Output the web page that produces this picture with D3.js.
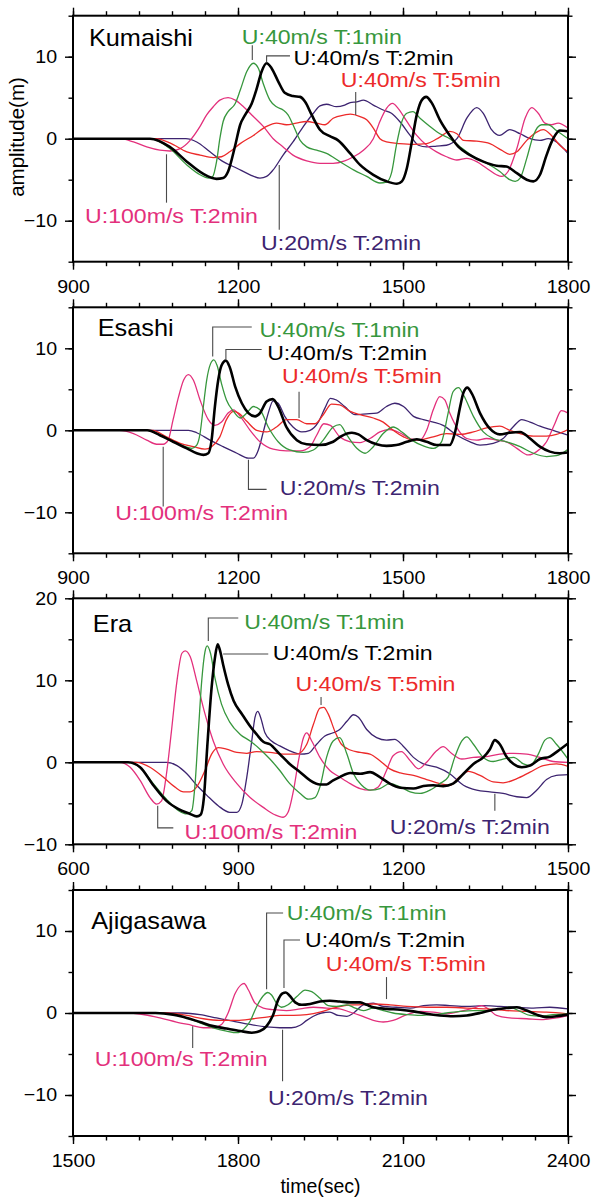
<!DOCTYPE html>
<html>
<head>
<meta charset="utf-8">
<script src="https://cdn.jsdelivr.net/npm/d3@7/dist/d3.min.js"></script>
<style>
  body { margin: 0; background: #fff; }
  svg { display: block; }
  text { font-family: "Liberation Sans", Arial, Helvetica, sans-serif; }
</style>
</head>
<body>
<svg id="chart" width="591" height="1198"></svg>
<script>
// ---- Simulated tsunami waveforms: [time (sec), amplitude (m)] ----

// Kumaishi
const kumaishiU40T1 = [[900,0],[1040,0],[1076,-1.2],[1107,-3.2],[1131,-4.4],[1146,-4.8],[1154,-4.6],[1161,-2.8],[1167,0.0],[1173,2.1],[1182,3.3],[1195,4.3],[1204,5.9],[1216,8.2],[1228,9.2],[1237,8.6],[1246,6.7],[1258,4.7],[1270,3.9],[1282,3.5],[1291,2.9],[1300,1.7],[1313,-0.2],[1325,-1.0],[1343,-1.4],[1361,-1.8],[1385,-2.8],[1410,-3.8],[1434,-4.6],[1458,-5.4],[1470,-5.3],[1479,-4.2],[1488,-0.8],[1498,2.1],[1507,3.1],[1518,3.3],[1531,2.5],[1549,1.5],[1567,0.6],[1585,0.0],[1604,-1.0],[1628,-2.2],[1652,-3.0],[1676,-4.0],[1694,-5.0],[1704,-5.2],[1713,-4.8],[1725,-2.4],[1737,0.4],[1752,1.7],[1764,1.7],[1779,1.0],[1800,0.0]];
const kumaishiU40T2 = [[900,0],[1040,0],[1076,-1.0],[1107,-2.8],[1137,-4.3],[1161,-4.9],[1173,-4.8],[1182,-4.0],[1195,-0.8],[1204,1.7],[1213,2.9],[1225,4.3],[1234,6.1],[1243,8.2],[1252,9.2],[1261,8.6],[1273,7.0],[1285,5.6],[1300,5.2],[1313,5.1],[1322,4.5],[1334,2.9],[1349,1.1],[1367,0.3],[1382,-0.2],[1404,-1.8],[1422,-3.2],[1446,-4.4],[1470,-5.2],[1489,-5.5],[1498,-5.2],[1507,-3.6],[1516,-0.4],[1525,2.9],[1534,4.7],[1542,5.1],[1552,4.4],[1567,2.3],[1585,0.4],[1601,-1.0],[1622,-2.0],[1646,-2.8],[1670,-3.3],[1688,-3.4],[1707,-4.2],[1725,-5.0],[1737,-5.2],[1749,-4.4],[1761,-2.0],[1773,0.0],[1785,1.0],[1800,0.9]];
const kumaishiU40T5 = [[900,0],[1050,0],[1076,-0.5],[1107,-1.6],[1131,-2.0],[1155,-2.3],[1170,-2.2],[1185,-1.6],[1204,-0.6],[1228,0.4],[1252,1.5],[1270,1.9],[1288,1.7],[1306,1.9],[1325,2.1],[1343,1.9],[1358,1.7],[1373,2.5],[1394,2.9],[1404,3.0],[1422,2.7],[1434,2.3],[1446,1.3],[1458,0.0],[1470,-0.4],[1494,-0.6],[1519,-0.7],[1543,-0.6],[1567,0.2],[1585,0.9],[1598,0.6],[1610,-0.2],[1634,-0.3],[1658,-0.6],[1679,-1.4],[1694,-1.9],[1707,-1.6],[1725,-0.2],[1743,0.8],[1755,1.1],[1770,0.4],[1785,-0.8],[1800,-1.6]];
const kumaishiU100T2 = [[900,0],[985,0],[1010,-0.4],[1034,-1.0],[1058,-1.4],[1076,-1.5],[1095,-1.2],[1113,-0.2],[1131,1.5],[1143,2.9],[1155,3.9],[1167,4.7],[1182,5.0],[1195,4.7],[1210,3.9],[1228,2.7],[1246,1.5],[1264,0.0],[1282,-1.0],[1300,-2.0],[1325,-2.7],[1349,-3.0],[1373,-3.0],[1394,-2.7],[1410,-2.2],[1428,-1.4],[1446,0.0],[1458,2.1],[1470,3.7],[1481,4.3],[1491,3.7],[1507,2.1],[1525,0.4],[1543,-0.8],[1561,-1.6],[1579,-2.2],[1598,-2.6],[1616,-2.4],[1634,-2.8],[1652,-3.6],[1670,-4.4],[1679,-4.6],[1691,-4.0],[1707,-1.2],[1722,2.5],[1734,3.8],[1746,3.1],[1758,1.9],[1770,1.7],[1782,1.9],[1800,1.3]];
const kumaishiU20T2 = [[900,0],[1105,0],[1125,-0.4],[1149,-1.6],[1173,-2.8],[1198,-3.6],[1222,-4.4],[1240,-4.8],[1252,-4.6],[1264,-3.8],[1282,-2.0],[1300,-0.4],[1319,1.5],[1337,3.1],[1349,4.0],[1361,4.2],[1379,3.9],[1394,4.1],[1404,4.4],[1416,4.5],[1428,4.7],[1446,4.1],[1464,3.5],[1479,3.1],[1494,2.1],[1513,0.4],[1528,-0.8],[1543,-1.0],[1561,-0.9],[1579,-0.8],[1598,0.0],[1616,2.5],[1634,3.8],[1646,3.1],[1661,1.1],[1676,0.4],[1694,1.1],[1713,0.6],[1731,0.0],[1749,-0.2],[1764,0.0],[1779,-0.4],[1800,-1.8]];

// Esashi
const esashiU40T1 = [[900,0],[1035,0],[1058,-0.6],[1082,-1.4],[1104,-2.0],[1116,-2.2],[1125,-1.8],[1131,-0.4],[1137,2.9],[1143,6.1],[1150,8.1],[1156,8.6],[1162,7.9],[1170,5.7],[1179,3.7],[1192,2.3],[1204,1.5],[1216,2.1],[1228,2.9],[1240,2.5],[1255,0.4],[1273,-1.4],[1294,-2.4],[1319,-2.7],[1337,-2.4],[1355,-1.2],[1373,0.4],[1385,0.7],[1398,-0.6],[1416,-2.2],[1431,-2.8],[1446,-2.0],[1464,-0.4],[1482,0.4],[1498,-0.2],[1516,-1.2],[1537,-1.9],[1555,-2.2],[1570,-1.4],[1582,2.1],[1591,4.7],[1601,5.2],[1610,4.3],[1628,1.7],[1646,-0.2],[1664,-1.0],[1688,-1.4],[1713,-2.0],[1737,-2.8],[1761,-3.2],[1779,-3.1],[1800,-2.3]];
const esashiU40T2 = [[900,0],[1035,0],[1058,-0.6],[1082,-1.4],[1107,-2.2],[1125,-2.8],[1137,-3.0],[1146,-2.8],[1152,-1.2],[1158,2.9],[1164,6.1],[1170,7.9],[1178,8.5],[1185,7.7],[1195,5.3],[1207,3.3],[1219,2.1],[1231,1.7],[1240,2.1],[1252,3.5],[1263,3.8],[1273,2.9],[1288,0.4],[1307,-1.2],[1325,-1.7],[1349,-1.8],[1373,-1.4],[1388,-0.7],[1407,-0.3],[1419,-0.5],[1434,-1.2],[1452,-1.7],[1470,-1.9],[1488,-1.8],[1507,-1.4],[1525,-1.1],[1543,-1.4],[1561,-1.8],[1585,-1.8],[1594,-0.4],[1604,2.9],[1610,4.6],[1617,5.2],[1625,4.5],[1640,2.1],[1658,0.2],[1676,-0.5],[1694,-0.3],[1713,-0.2],[1731,-1.0],[1749,-2.0],[1767,-2.6],[1785,-2.8],[1800,-2.7]];
const esashiU40T5 = [[900,0],[1045,0],[1070,-0.8],[1095,-1.6],[1119,-2.0],[1140,-2.3],[1152,-2.0],[1167,-0.8],[1179,1.3],[1192,2.3],[1201,2.1],[1216,1.1],[1234,0.0],[1252,-0.2],[1270,0.4],[1288,1.3],[1307,1.3],[1325,0.8],[1340,0.8],[1355,1.9],[1370,3.2],[1385,3.1],[1404,2.3],[1422,1.9],[1446,1.5],[1464,1.0],[1482,0.0],[1501,-0.8],[1519,-1.2],[1537,-1.1],[1555,-0.8],[1579,-0.4],[1604,-0.5],[1628,-0.2],[1652,0.3],[1676,0.5],[1694,0.0],[1713,-0.4],[1737,-0.7],[1761,-0.7],[1779,-0.5],[1800,0.1]];
const esashiU100T2 = [[900,0],[985,0],[1010,-0.4],[1034,-1.2],[1052,-1.7],[1064,-1.7],[1073,-1.2],[1082,1.3],[1092,4.1],[1101,6.1],[1110,6.8],[1119,6.1],[1131,3.7],[1146,1.3],[1158,0.6],[1170,1.0],[1182,2.1],[1192,2.5],[1204,1.7],[1222,0.0],[1240,-1.4],[1264,-2.3],[1288,-2.5],[1313,-2.5],[1331,-2.0],[1343,-0.6],[1356,0.8],[1368,0.6],[1385,-0.8],[1404,-1.4],[1422,-1.5],[1440,-1.0],[1458,-0.2],[1476,0.1],[1494,-0.3],[1513,-1.0],[1531,-1.2],[1543,0.0],[1555,2.5],[1567,4.1],[1576,3.7],[1585,2.1],[1601,0.0],[1616,-1.0],[1634,-1.2],[1652,-1.0],[1670,-1.2],[1688,-1.4],[1707,-2.2],[1728,-3.0],[1743,-2.6],[1761,-1.4],[1776,0.8],[1788,2.4],[1800,2.1]];
const esashiU20T2 = [[900,0],[1110,0],[1125,-0.3],[1149,-1.2],[1173,-2.0],[1198,-2.8],[1219,-3.4],[1228,-3.4],[1237,-2.4],[1246,-0.2],[1255,2.1],[1264,3.6],[1273,3.3],[1285,1.7],[1300,0.4],[1316,-0.2],[1331,0.0],[1346,1.0],[1358,2.7],[1368,3.9],[1379,3.7],[1394,2.9],[1413,1.9],[1434,2.0],[1452,2.1],[1470,2.9],[1485,3.3],[1501,2.9],[1519,1.7],[1537,1.3],[1555,1.0],[1573,0.6],[1598,-0.6],[1622,-1.4],[1640,-1.8],[1664,-1.6],[1682,-1.0],[1700,0.4],[1716,1.3],[1731,1.0],[1749,0.5],[1773,0.0],[1800,-0.6]];

// Era
const eraU40T1 = [[600,0],[700,0],[722,-0.6],[746,-2.6],[770,-4.5],[792,-5.9],[807,-6.3],[816,-5.9],[822,-2.6],[828,3.8],[834,9.9],[840,13.5],[844,14.2],[850,13.3],[858,10.3],[870,7.1],[885,4.9],[904,3.4],[922,2.6],[940,1.6],[958,0.4],[976,-1.0],[994,-2.6],[1013,-3.8],[1028,-4.5],[1040,-4.3],[1049,-3.0],[1061,0.6],[1073,2.6],[1085,3.0],[1098,1.0],[1110,-1.4],[1125,-2.8],[1140,-3.4],[1158,-3.2],[1176,-2.6],[1195,-3.0],[1213,-3.6],[1231,-3.8],[1249,-3.4],[1267,-2.6],[1282,-1.8],[1294,0.6],[1307,2.6],[1316,3.1],[1328,2.2],[1346,0.6],[1364,0.1],[1382,0.4],[1401,0.6],[1419,-0.2],[1431,-0.4],[1446,1.0],[1458,2.7],[1467,3.0],[1479,2.2],[1500,0.4]];
const eraU40T2 = [[600,0],[700,0],[722,-0.6],[746,-2.8],[770,-4.7],[792,-5.7],[813,-6.3],[825,-6.6],[832,-6.4],[838,-4.3],[844,1.8],[852,9.1],[858,12.7],[863,14.4],[867,13.7],[873,11.9],[882,9.5],[892,7.5],[907,5.9],[922,4.4],[934,3.4],[946,2.5],[958,2.2],[976,1.0],[994,-0.2],[1013,-1.2],[1031,-2.2],[1049,-2.7],[1061,-2.7],[1073,-2.2],[1085,-1.8],[1104,-1.3],[1122,-1.4],[1140,-1.2],[1158,-1.8],[1176,-2.6],[1195,-3.1],[1219,-3.2],[1237,-2.9],[1255,-2.8],[1273,-2.9],[1291,-2.6],[1310,-1.4],[1328,-0.2],[1346,0.6],[1358,1.6],[1367,2.7],[1376,2.2],[1388,0.7],[1401,-0.2],[1416,-0.6],[1431,-0.4],[1449,0.4],[1467,0.7],[1482,1.4],[1500,2.3]];
const eraU40T5 = [[600,0],[715,0],[740,-0.6],[764,-1.8],[785,-3.0],[801,-3.6],[813,-3.6],[825,-3.0],[840,-1.0],[852,1.0],[864,1.8],[879,1.6],[898,1.2],[916,1.1],[934,1.3],[958,1.2],[982,1.0],[1007,1.0],[1025,2.2],[1037,4.6],[1049,6.6],[1056,6.7],[1064,5.9],[1076,3.8],[1088,2.2],[1104,1.5],[1122,1.2],[1140,1.0],[1158,0.2],[1176,-0.8],[1195,-1.3],[1219,-1.6],[1243,-2.1],[1267,-2.6],[1285,-2.8],[1304,-1.7],[1319,-1.1],[1340,-1.6],[1364,-2.4],[1382,-2.5],[1407,-2.0],[1431,-1.2],[1455,-0.4],[1479,-0.2],[1500,-0.5]];
const eraU100T2 = [[600,0],[685,0],[704,-0.6],[722,-2.2],[740,-4.3],[752,-5.1],[761,-4.7],[770,-1.4],[779,3.8],[789,9.9],[798,13.3],[804,13.6],[813,12.9],[825,9.9],[840,5.9],[855,2.6],[873,-0.2],[898,-2.6],[922,-4.3],[946,-5.5],[967,-6.4],[982,-6.7],[991,-6.1],[1001,-3.4],[1010,0.2],[1019,3.0],[1025,3.6],[1034,2.6],[1049,0.6],[1067,-1.0],[1085,-1.8],[1104,-2.6],[1122,-3.2],[1140,-3.4],[1155,-3.0],[1170,-1.0],[1182,0.8],[1197,1.3],[1213,0.2],[1228,-0.8],[1243,0.0],[1261,1.4],[1273,1.9],[1288,1.1],[1307,0.4],[1328,0.6],[1352,0.7],[1376,1.0],[1401,1.1],[1425,1.0],[1449,0.6],[1473,0.1],[1500,0.0]];
const eraU20T2 = [[600,0],[770,0],[789,-0.4],[807,-1.4],[825,-2.8],[843,-4.0],[864,-5.3],[885,-6.1],[898,-6.1],[907,-5.1],[916,-1.8],[925,2.6],[931,5.5],[936,6.2],[941,5.5],[949,3.6],[961,2.6],[976,2.0],[994,1.4],[1013,1.0],[1028,1.1],[1043,2.2],[1058,3.2],[1073,3.6],[1085,4.0],[1098,5.0],[1110,5.8],[1119,5.5],[1134,4.0],[1152,3.0],[1170,2.7],[1185,2.8],[1200,2.0],[1219,0.6],[1237,-0.2],[1261,-0.6],[1285,-1.4],[1310,-2.8],[1334,-3.4],[1358,-3.6],[1382,-3.8],[1407,-4.2],[1425,-4.3],[1443,-3.4],[1461,-2.1],[1479,-1.6],[1500,-1.5]];

// Ajigasawa
const ajigasawaU40T1 = [[1500,0],[1650,0],[1682,-0.2],[1707,-0.6],[1731,-1.2],[1755,-1.8],[1779,-2.2],[1798,-2.4],[1810,-2.0],[1822,-1.0],[1834,0.8],[1846,2.1],[1854,2.5],[1861,2.2],[1870,1.2],[1879,0.7],[1891,1.0],[1907,2.0],[1922,2.8],[1934,2.6],[1949,1.8],[1964,0.9],[1979,0.8],[1998,1.0],[2013,0.6],[2028,0.3],[2046,0.6],[2064,0.3],[2082,0.0],[2107,-0.2],[2131,-0.3],[2155,-0.2],[2179,0.0],[2204,0.2],[2228,0.3],[2252,0.3],[2276,0.5],[2294,0.7],[2313,0.2],[2331,-0.3],[2349,-0.4],[2373,-0.2],[2400,-0.1]];
const ajigasawaU40T2 = [[1500,0],[1650,0],[1682,-0.2],[1707,-0.6],[1731,-1.1],[1755,-1.6],[1779,-1.9],[1804,-2.2],[1825,-2.4],[1840,-2.2],[1852,-1.6],[1864,-0.2],[1873,1.6],[1881,2.4],[1887,2.5],[1894,2.1],[1904,1.3],[1916,1.0],[1931,1.1],[1949,1.4],[1967,1.5],[1985,1.4],[2004,1.3],[2022,1.3],[2034,1.0],[2046,0.7],[2070,0.5],[2095,0.4],[2119,0.2],[2143,-0.1],[2167,-0.3],[2191,-0.4],[2216,-0.3],[2240,0.0],[2264,0.4],[2288,0.6],[2307,0.7],[2325,0.3],[2343,-0.2],[2361,-0.5],[2379,-0.4],[2400,-0.2]];
const ajigasawaU40T5 = [[1500,0],[1670,0],[1707,-0.3],[1737,-0.7],[1767,-0.9],[1798,-0.9],[1828,-0.7],[1852,-0.5],[1876,-0.3],[1901,-0.3],[1925,-0.2],[1949,0.1],[1973,0.6],[1994,0.9],[2016,1.0],[2046,1.1],[2076,1.0],[2107,0.8],[2143,0.7],[2179,0.7],[2216,0.6],[2252,0.5],[2288,0.3],[2325,0.2],[2361,0.1],[2400,-0.1]];
const ajigasawaU100T2 = [[1500,0],[1600,0],[1658,-0.6],[1688,-1.1],[1716,-1.5],[1737,-1.8],[1755,-1.8],[1770,-1.4],[1782,0.0],[1795,2.4],[1805,3.4],[1811,3.6],[1819,2.8],[1831,1.2],[1846,0.6],[1864,0.4],[1888,0.3],[1913,0.5],[1937,0.7],[1961,0.6],[1985,0.5],[2004,0.1],[2022,-0.3],[2046,-0.9],[2064,-1.1],[2082,-0.9],[2107,-0.2],[2131,0.2],[2155,0.1],[2179,-0.1],[2204,0.2],[2228,0.6],[2243,0.9],[2255,0.5],[2270,-0.3],[2294,-0.6],[2325,-0.7],[2355,-0.8],[2379,-0.6],[2400,-0.3]];
const ajigasawaU20T2 = [[1500,0],[1700,0],[1731,-0.2],[1761,-0.6],[1791,-1.0],[1822,-1.4],[1852,-1.7],[1876,-1.8],[1897,-1.8],[1913,-1.5],[1925,-0.9],[1937,-0.4],[1952,0.0],[1967,0.1],[1982,-0.3],[1998,-0.4],[2010,0.0],[2028,1.0],[2046,1.2],[2064,0.8],[2088,0.7],[2113,0.6],[2137,0.9],[2161,1.0],[2185,0.9],[2216,0.8],[2246,0.9],[2276,0.8],[2307,0.7],[2337,0.6],[2367,0.7],[2400,0.5]];

// Station names, axis ranges and tick labels
const stations = ["Kumaishi", "Esashi", "Era", "Ajigasawa"];
const timeRanges = [[900, 1800], [900, 1800], [600, 1500], [1500, 2400]];
const ampRanges = [[-15, 15], [-15, 15], [-10, 20], [-15, 15]];
const timeTickLabels = [[900, 1200, 1500, 1800], [900, 1200, 1500, 1800], [600, 900, 1200, 1500], [1500, 1800, 2100, 2400]];
const ampTickLabels = [[-10, 0, 10], [-10, 0, 10], [-10, 0, 10, 20], [-10, 0, 10]];
const runNames = ["U:20m/s T:2min", "U:100m/s T:2min", "U:40m/s T:5min", "U:40m/s T:1min", "U:40m/s T:2min"];

// ---- Styles ----
const runStyles = [
  { color: "#3d2470", width: 1.3 },  // U:20 T:2
  { color: "#e3307c", width: 1.3 },  // U:100 T:2
  { color: "#ec2a2a", width: 1.3 },  // U:40 T:5
  { color: "#37973d", width: 1.3 },  // U:40 T:1
  { color: "#000000", width: 2.6 }   // U:40 T:2
];
const stationRuns = [
  [kumaishiU20T2, kumaishiU100T2, kumaishiU40T5, kumaishiU40T1, kumaishiU40T2],
  [esashiU20T2, esashiU100T2, esashiU40T5, esashiU40T1, esashiU40T2],
  [eraU20T2, eraU100T2, eraU40T5, eraU40T1, eraU40T2],
  [ajigasawaU20T2, ajigasawaU100T2, ajigasawaU40T5, ajigasawaU40T1, ajigasawaU40T2]
];

// Label placement per panel (in data units): text anchor [t, v] and leader polyline
const labelLayout = [
  { name: [929, 11.3],
    runs: [
      { at: [1242, -13.6], leader: [[1275, -3.2], [1275, -11.1]] },
      { at: [922, -10.3],  leader: [[1070, -1.9], [1070, -7.8]] },
      { at: [1387, 6.27],  leader: [[1414, 5.7], [1414, 2.9]] },
      { at: [1207, 11.55], leader: [[1226, 11.4], [1226, 9.6]] },
      { at: [1301, 9.0],   leader: [[1294.5, 10.1], [1252, 10.1], [1252, 9.3]] }
    ] },
  { name: [945, 11.5],
    runs: [
      { at: [1276, -7.95], leader: [[1219, -3.6], [1219, -7.2], [1252, -7.2]] },
      { at: [977, -10.9],  leader: [[1064, -2.0], [1064, -9.3]] },
      { at: [1280, 5.8],   leader: [[1311, 4.7], [1311, 1.5]] },
      { at: [1239, 11.4],  leader: [[1225, 12.6], [1154, 12.6], [1154, 9.0]] },
      { at: [1253, 8.6],   leader: [[1243, 9.85], [1178, 9.85], [1178, 8.7]] }
    ] },
  { name: [636, 15.9],
    runs: [
      { at: [1176, -8.74], leader: [[1367, -3.85], [1367, -5.9]] },
      { at: [802.7, -9.35], leader: [[754, -5.3], [754, -8.0], [782.4, -8.0]] },
      { at: [1004.5, 8.65], leader: [[1051, 7.97], [1051, 7.0]] },
      { at: [911.5, 16.3], leader: [[846, 14.8], [846, 17.6], [900.5, 17.6]] },
      { at: [963, 12.5],   leader: [[873, 13.2], [955, 13.2]] }
    ] },
  { name: [1533, 10.3],
    runs: [
      { at: [1854.5, -11.16], leader: [[1881, -2.03], [1881, -8.32]] },
      { at: [1539.5, -6.5],  leader: [[1717.6, -1.63], [1717.6, -4.26]] },
      { at: [1959.6, 5.18],  leader: [[2070, 4.38], [2070, 1.7]] },
      { at: [1888.5, 11.35], leader: [[1852, 2.9], [1852, 12.2], [1882, 12.2]] },
      { at: [1922, 8.1],     leader: [[1883.6, 3.04], [1883.6, 8.9], [1912.7, 8.9]] }
    ] }
];

// ---- Layout ----
const svg = d3.select("#chart");
const plotLeft = 73, plotRight = 568, plotHeight = 246;
const panelTops = [15.7, 307.3, 598.3, 890];
const fontStack = '"Liberation Sans", Arial, Helvetica, sans-serif';

// Text drawn slightly wide, like the Helvetica lettering of the figure
function wideText(g, x, y, str, size, sx, color, anchor) {
  g.append("g")
    .attr("transform", `translate(${x},${y}) scale(${sx},1)`)
    .append("text")
    .attr("text-anchor", anchor || "start")
    .attr("font-size", size)
    .attr("fill", color)
    .text(str);
}

stations.forEach((station, i) => {
  const top = panelTops[i];
  const x = d3.scaleLinear().domain(timeRanges[i]).range([plotLeft, plotRight]);
  const y = d3.scaleLinear().domain(ampRanges[i]).range([top + plotHeight, top]);
  const g = svg.append("g");

  const [t0, t1] = timeRanges[i];
  const [a0, a1] = ampRanges[i];
  const minorT = d3.range(t0, t1 + 1, 60);
  const minorA = d3.range(a0, a1 + 0.01, 5);

  const styleAxis = (sel, labelled) => {
    sel.select(".domain").remove();
    sel.selectAll(".tick line").attr("stroke", "#000").attr("stroke-width", 1.4);
    if (labelled) {
      sel.selectAll("text").attr("font-size", 18.5).attr("fill", "#000")
        .attr("font-family", fontStack)
        .attr("transform", "scale(1.06,1)");
    }
  };

  // Minor ticks on all four sides
  g.append("g").attr("transform", `translate(0,${top + plotHeight})`)
    .call(d3.axisBottom(x).tickValues(minorT).tickSize(4.5).tickFormat(""))
    .call(s => styleAxis(s, false));
  g.append("g").attr("transform", `translate(0,${top})`)
    .call(d3.axisTop(x).tickValues(minorT).tickSize(4.5).tickFormat(""))
    .call(s => styleAxis(s, false));
  g.append("g").attr("transform", `translate(${plotLeft},0)`)
    .call(d3.axisLeft(y).tickValues(minorA).tickSize(4.5).tickFormat(""))
    .call(s => styleAxis(s, false));
  g.append("g").attr("transform", `translate(${plotRight},0)`)
    .call(d3.axisRight(y).tickValues(minorA).tickSize(4.5).tickFormat(""))
    .call(s => styleAxis(s, false));

  // Major ticks, labelled on bottom and left
  g.append("g").attr("transform", `translate(0,${top + plotHeight})`)
    .call(d3.axisBottom(x).tickValues(timeTickLabels[i]).tickSize(8).tickPadding(10).tickFormat(d3.format("d")))
    .call(s => styleAxis(s, true));
  g.append("g").attr("transform", `translate(0,${top})`)
    .call(d3.axisTop(x).tickValues(timeTickLabels[i]).tickSize(8).tickFormat(""))
    .call(s => styleAxis(s, false));
  g.append("g").attr("transform", `translate(${plotLeft},0)`)
    .call(d3.axisLeft(y).tickValues(ampTickLabels[i]).tickSize(8).tickPadding(7).tickFormat(d3.format("d")))
    .call(s => styleAxis(s, true));
  g.append("g").attr("transform", `translate(${plotRight},0)`)
    .call(d3.axisRight(y).tickValues(ampTickLabels[i]).tickSize(8).tickFormat(""))
    .call(s => styleAxis(s, false));

  // Clip region for the waveforms
  const clipId = "clip" + i;
  svg.append("clipPath").attr("id", clipId)
    .append("rect")
    .attr("x", plotLeft).attr("y", top)
    .attr("width", plotRight - plotLeft).attr("height", plotHeight);

  const line = d3.line()
    .x(d => x(d[0]))
    .y(d => y(d[1]))
    .curve(d3.curveMonotoneX);

  const curves = g.append("g").attr("clip-path", `url(#${clipId})`);
  stationRuns[i].forEach((run, k) => {
    curves.append("path")
      .datum(run)
      .attr("fill", "none")
      .attr("stroke", runStyles[k].color)
      .attr("stroke-width", runStyles[k].width)
      .attr("stroke-linejoin", "round")
      .attr("d", line);
  });

  // Frame
  g.append("rect")
    .attr("x", plotLeft).attr("y", top)
    .attr("width", plotRight - plotLeft).attr("height", plotHeight)
    .attr("fill", "none").attr("stroke", "#000").attr("stroke-width", 2);

  // Leaders and run labels
  const layout = labelLayout[i];
  const leaderLine = d3.line().x(d => x(d[0])).y(d => y(d[1]));
  layout.runs.forEach((lab, k) => {
    g.append("path")
      .attr("d", leaderLine(lab.leader))
      .attr("fill", "none")
      .attr("stroke", "#4a4a4a")
      .attr("stroke-width", 1.1);
    wideText(g, x(lab.at[0]), y(lab.at[1]), runNames[k], 21, 1.1, runStyles[k].color);
  });

  // Station name
  wideText(g, x(layout.name[0]), y(layout.name[1]), station, 23, 1.1, "#000");
});

// Axis titles
svg.append("text")
  .attr("transform", "translate(24,137) rotate(-90)")
  .attr("text-anchor", "middle")
  .attr("font-size", 20.5)
  .attr("fill", "#000")
  .text("amplitude(m)");

svg.append("text")
  .attr("x", (plotLeft + plotRight) / 2)
  .attr("y", 1193)
  .attr("text-anchor", "middle")
  .attr("font-size", 19.5)
  .attr("fill", "#000")
  .text("time(sec)");
</script>
</body>
</html>
